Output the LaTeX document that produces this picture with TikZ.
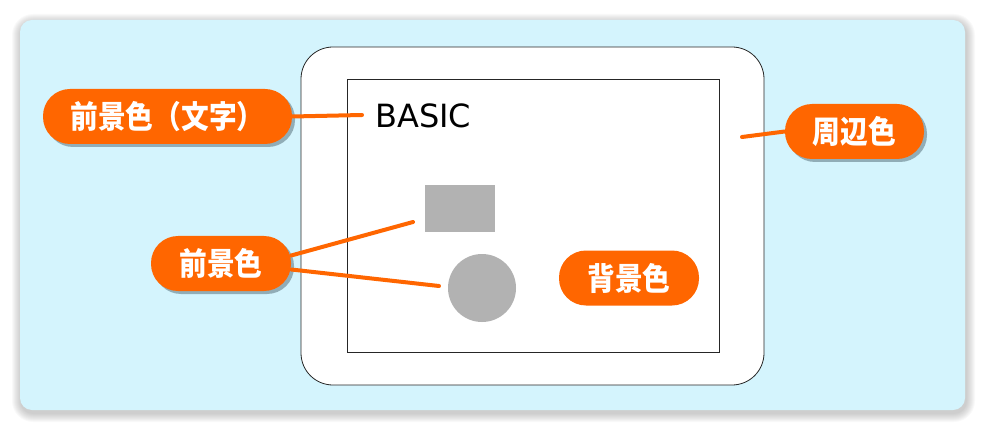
\documentclass[tikz,border=0pt]{standalone}
\usepackage{fontspec}
\newfontfamily\cjk[FakeStretch=0.88]{Noto Sans CJK JP}
\setsansfont{DejaVu Sans}
\usetikzlibrary{shadows,calc}
\definecolor{bgblue}{HTML}{D4F4FD}
\definecolor{orng}{HTML}{FF6600}
\definecolor{shapegray}{HTML}{B2B2B2}
\definecolor{shadowc}{HTML}{4F6872}
\begin{document}
\begin{tikzpicture}[x=1pt,y=-1pt,
  pill/.style={fill=orng, text=white, font=\cjk\bfseries\fontsize{31.5}{31.5}\selectfont,
    rounded corners=27pt, minimum height=55pt, inner sep=0pt, anchor=center},
  pillshadow/.style={pill, drop shadow={shadow xshift=3pt, shadow yshift=-3pt, opacity=0.5, fill=shadowc}},
  conn/.style={draw=orng, line width=4pt, line cap=round},
  framebox/.style={draw=black!85, line width=0.8pt}]
\useasboundingbox (0,0) rectangle (992,438);
% soft shadow of the background panel
\foreach \i in {1,...,9}{
  \fill[black, opacity=0.022, rounded corners={12pt+\i pt}]
    ({20-\i+1},{20-\i+3}) rectangle ({965+\i+1},{410+\i+3});
}
\node[fill=bgblue, rounded corners=12pt, minimum width=945pt, minimum height=390pt, inner sep=0pt] (bg) at (492.5,215) {};
% monitor
\node[framebox, fill=white, rounded corners=32pt, minimum width=463pt, minimum height=338pt, inner sep=0pt] (mon) at (532.5,216) {};
\node[framebox, fill=white, minimum width=372pt, minimum height=273pt, inner sep=0pt] (scr) at (533,215.5) {};
% foreground shapes
\node[fill=shapegray, minimum width=70pt, minimum height=47pt, inner sep=0pt] (grect) at (460,208.5) {};
\node[fill=shapegray, circle, minimum size=68pt, inner sep=0pt] (gcirc) at (482,288) {};
\node[anchor=west, font=\sffamily\fontsize{32}{32}\selectfont, inner sep=0pt] (basic) at (375,115.5) {BASIC};
% labels
\node[pillshadow, minimum width=249pt] (fgt) at (167.5,116.5) {前景色（文字）};
\node[pillshadow, minimum width=140pt] (fg) at (221,263.5) {前景色};
\node[pill, minimum width=140pt] (bgl) at (629,278) {背景色};
\node[pillshadow, minimum width=139pt] (per) at (854.5,131.5) {周辺色};
% connectors
\coordinate (pbasic) at (362,115);
\coordinate (prect) at (413,222);
\coordinate (pcirc) at (439,286);
\coordinate (pmon) at (742,137);
\draw[conn] (fgt.east) -- (pbasic);
\draw[conn] ([yshift=8pt]fg.east) -- (prect);
\draw[conn] ([yshift=-6pt]fg.east) -- (pcirc);
\draw[conn] (pmon) -- (per.west);
\end{tikzpicture}
\end{document}
